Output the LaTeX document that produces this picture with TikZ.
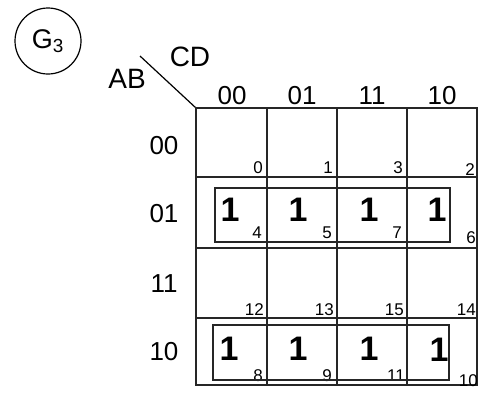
\documentclass[tikz,border=0pt]{standalone}
\usepackage{fontspec}
\setmainfont{Liberation Sans}
\begin{document}
\begin{tikzpicture}[x=1pt,y=-1pt,
  grid/.style={line width=1.6pt,black!85},
  grp/.style={line width=1.5pt,black!85},
  hdr/.style={font=\fontsize{26}{26}\selectfont,inner sep=0pt},
  one/.style={font=\fontsize{34}{34}\selectfont\bfseries,inner sep=0pt},
  mt/.style={font=\fontsize{17}{17}\selectfont,inner sep=0pt,anchor=base east}]
\useasboundingbox (0,0) rectangle (481,392);
% title circle
\node[draw,circle,line width=1.2pt,minimum size=66pt,inner sep=0pt,font=\fontsize{27}{27}\selectfont] (g) at (48,41) {G$_{\mathrm{3}}$};
% corner
\coordinate (tl) at (196,108);
\coordinate (diag) at (140,56);
\draw[line width=1.2pt] (diag) -- (tl);
\node[font=\fontsize{28}{28}\selectfont,inner sep=0pt] (cd) at (190,57) {CD};
\node[font=\fontsize{28}{28}\selectfont,inner sep=0pt] (ab) at (127,79) {AB};
% headers
\node[hdr] (c0) at (232,96) {00};
\node[hdr] (c1) at (302,96) {01};
\node[hdr] (c2) at (372,96) {11};
\node[hdr] (c3) at (442,96) {10};
\node[hdr] (r0) at (164,146) {00};
\node[hdr] (r1) at (164,214) {01};
\node[hdr] (r2) at (164,284) {11};
\node[hdr] (r3) at (164,352) {10};
% grid
\draw[grid] (196,108) rectangle (477,385);
\foreach \x in {267,337,407} \draw[grid] (\x,108) -- (\x,385);
\foreach \y in {177,248,318} \draw[grid] (196,\y) -- (477,\y);
% minterm numbers
\foreach \n/\x/\y in {0/263/173,1/333/173,3/403/173,2/475/175,
                      4/262/238,5/332/238,7/402/238,6/476/243,
                      12/264/315,13/334/315,15/404/315,14/476/315,
                      8/263/381,9/332/381,11/405/381,10/478/386}
  \node[mt] (m\n) at (\x,\y) {\n};
% ones
\foreach \n/\x/\y in {4/230/210,5/298/210,7/369/210,6/437/210,
                      8/229/349,9/298/349,11/369/349,10/439/350}
  \node[one] (o\n) at (\x,\y) {1};
% groups
\draw[grp] (215,188) rectangle (450,242);
\draw[grp] (213,325) rectangle (449,380);
\end{tikzpicture}
\end{document}
